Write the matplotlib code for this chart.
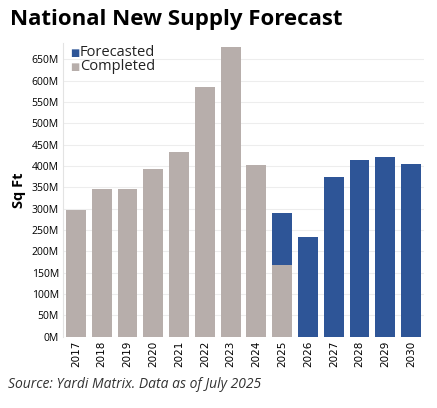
import matplotlib
matplotlib.use("Agg")
import matplotlib.pyplot as plt
import numpy as np

# data (millions of sq ft)
years = ["2017", "2018", "2019", "2020", "2021", "2022", "2023",
         "2024", "2025", "2026", "2027", "2028", "2029", "2030"]
completed = [297, 346, 346, 393, 433, 585, 679, 402, 168, 0, 0, 0, 0, 0]
forecasted = [0, 0, 0, 0, 0, 0, 0, 0, 122, 234, 374, 414, 421, 405]
yticks = list(range(0, 651, 50))

gray = "#b7aeab"
blue = "#2e5597"

plt.rcParams["font.family"] = ["Open Sans", "DejaVu Sans"]

fig = plt.figure(figsize=(4.37, 4.08), dpi=100)
ax = fig.add_axes([63 / 437, 1 - 336.7 / 408, (424 - 63) / 437, (336.7 - 43) / 408])

x = np.arange(len(years))
ax.bar(x, completed, width=0.77, color=gray, zorder=2)
ax.bar(x, forecasted, width=0.77, bottom=completed, color=blue, zorder=2)

ax.set_xlim(-0.5, len(years) - 0.5)
ax.set_ylim(0, 688)
ax.set_yticks(yticks)
ax.set_yticklabels([f"{v}M" for v in yticks], fontsize=7.5)
ax.set_xticks(x)
ax.set_xticklabels(years, rotation=90, fontsize=7.5, family=["DejaVu Sans"])
ax.tick_params(length=0, pad=3)
ax.grid(axis="y", color="#ededed", linewidth=0.8, zorder=0)
for s in ["top", "right", "bottom"]:
    ax.spines[s].set_visible(False)
ax.spines["left"].set_color("#e3e3e3")
ax.set_ylabel("Sq Ft", fontsize=10.5, fontweight="bold", labelpad=4)

# legend drawn as text with square markers
fig.text(70 / 437, 1 - 53 / 408, "\u25a0", color=blue, fontsize=7, va="center",
         family=["DejaVu Sans"])
fig.text(80 / 437, 1 - 53 / 408, "Forecasted", fontsize=10.5, va="center", color="#222222")
fig.text(70 / 437, 1 - 67 / 408, "\u25a0", color=gray, fontsize=7, va="center",
         family=["DejaVu Sans"])
fig.text(80 / 437, 1 - 67 / 408, "Completed", fontsize=10.5, va="center", color="#222222")

fig.text(10 / 437, 1 - 20 / 408, "National New Supply Forecast",
         fontsize=16, fontweight="bold", va="center")
fig.text(8 / 437, 1 - 385 / 408, "Source: Yardi Matrix. Data as of July 2025",
         fontsize=10, style="italic", va="center", color="#333333")

fig.savefig("out.png", dpi=100)
